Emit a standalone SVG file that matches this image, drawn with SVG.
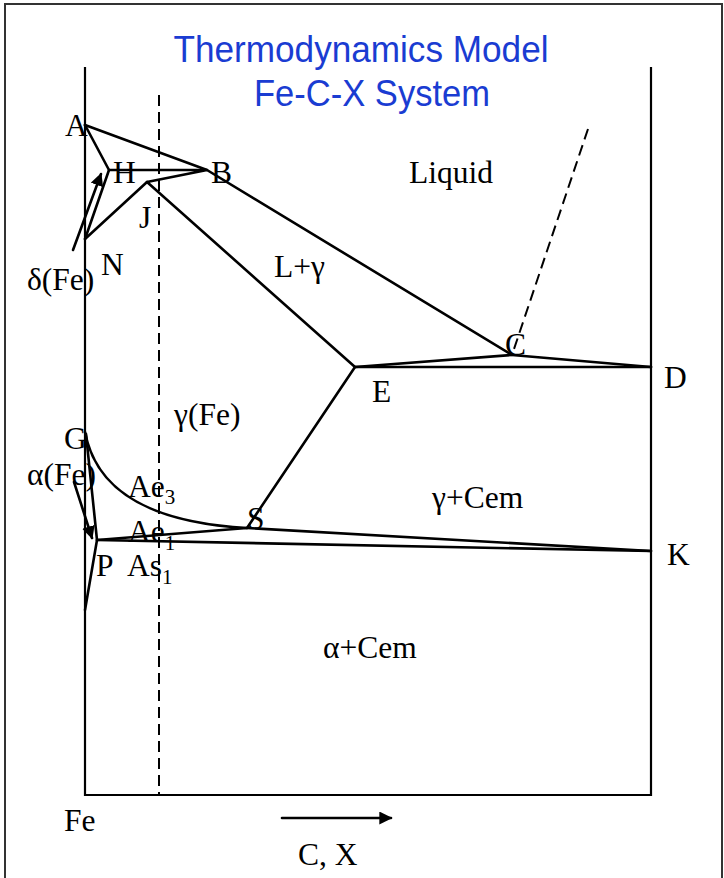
<svg xmlns="http://www.w3.org/2000/svg" width="724" height="878" viewBox="0 0 724 878">
<defs>
<style>
.ln{fill:none;stroke:#000;stroke-width:2.6;stroke-linecap:round;stroke-linejoin:round}
.ax{fill:none;stroke:#000;stroke-width:2.2}
.ds{fill:none;stroke:#000;stroke-width:2;stroke-dasharray:11,6}
.lb{font-family:"Liberation Serif","Times New Roman",serif;font-size:31.5px;fill:#000}
.sb{font-family:"Liberation Serif","Times New Roman",serif;font-size:21px;fill:#000}
.tt{font-family:"Liberation Sans",Arial,sans-serif;font-size:36px;fill:#1a3cd2;text-anchor:middle}
</style>
<marker id="ah" viewBox="0 0 10 10" refX="9" refY="5" markerWidth="5" markerHeight="5" orient="auto" markerUnits="strokeWidth">
<path d="M0,0 L10,5 L0,10 z" fill="#000"/>
</marker>
</defs>
<rect x="0" y="0" width="724" height="878" fill="#fff"/>
<rect id="frame" x="5" y="4" width="717" height="880" fill="none" stroke="#333" stroke-width="2"/>
<g id="title">
<text class="tt" x="361" y="62" textLength="375" lengthAdjust="spacingAndGlyphs">Thermodynamics Model</text>
<text class="tt" x="372" y="106" textLength="236" lengthAdjust="spacingAndGlyphs">Fe-C-X System</text>
</g>
<g id="axes">
<path class="ax" d="M85,67 V795 H651 V67"/>
<path class="ds" d="M159,95 V795"/>
<path class="ds" d="M588,129 L513,352"/>
</g>
<g id="connectors">
<path class="ln" d="M85,125 L207,170 L512,355 L651,367"/>
<path class="ln" d="M85,125 L109,170 L207,170 L147,182 L355,367 L512,355"/>
<path class="ln" d="M355,367 H651"/>
<path class="ln" d="M85,239 L109,170"/>
<path class="ln" d="M85,239 L147,182"/>
<path class="ln" d="M355,367 L247,528"/>
<path class="ln" d="M85,432 C95,485 140,522 247,528 L651,551"/>
<path class="ln" d="M86,434 L97,540 L247,528"/>
<path class="ln" d="M97,540 L651,551"/>
<path class="ln" d="M97,540 L85,610"/>
<path class="ln" d="M73,250 L101,174" marker-end="url(#ah)" stroke-width="2.2"/>
<path class="ln" d="M74,482 L92,538" marker-end="url(#ah)" stroke-width="2.2"/>
<path class="ln" d="M282,818 H391" marker-end="url(#ah)" stroke-width="2.2"/>
</g>
<g id="labels">
<text class="lb" x="65" y="136">A</text>
<text class="lb" x="113" y="183">H</text>
<text class="lb" x="211" y="183">B</text>
<text class="lb" x="139" y="228">J</text>
<text class="lb" x="101" y="275">N</text>
<text class="lb" x="27" y="290">δ(Fe)</text>
<text class="lb" x="409" y="183">Liquid</text>
<text class="lb" x="274" y="277">L+γ</text>
<text class="lb" x="505" y="355">C</text>
<text class="lb" x="664" y="388">D</text>
<text class="lb" x="372" y="402">E</text>
<text class="lb" x="174" y="425">γ(Fe)</text>
<text class="lb" x="64" y="449">G</text>
<text class="lb" x="27" y="485">α(Fe)</text>
<text class="lb" x="128" y="497">Ae<tspan class="sb" dy="7">3</tspan></text>
<text class="lb" x="432" y="508">γ+Cem</text>
<text class="lb" x="247" y="529">S</text>
<text class="lb" x="128" y="542">Ae<tspan class="sb" dy="8">1</tspan></text>
<text class="lb" x="667" y="565">K</text>
<text class="lb" x="96" y="576">P</text>
<text class="lb" x="127" y="576">As<tspan class="sb" dy="8">1</tspan></text>
<text class="lb" x="323" y="658">α+Cem</text>
<text class="lb" x="64" y="831">Fe</text>
<text class="lb" x="298" y="865">C, X</text>
</g>
</svg>
